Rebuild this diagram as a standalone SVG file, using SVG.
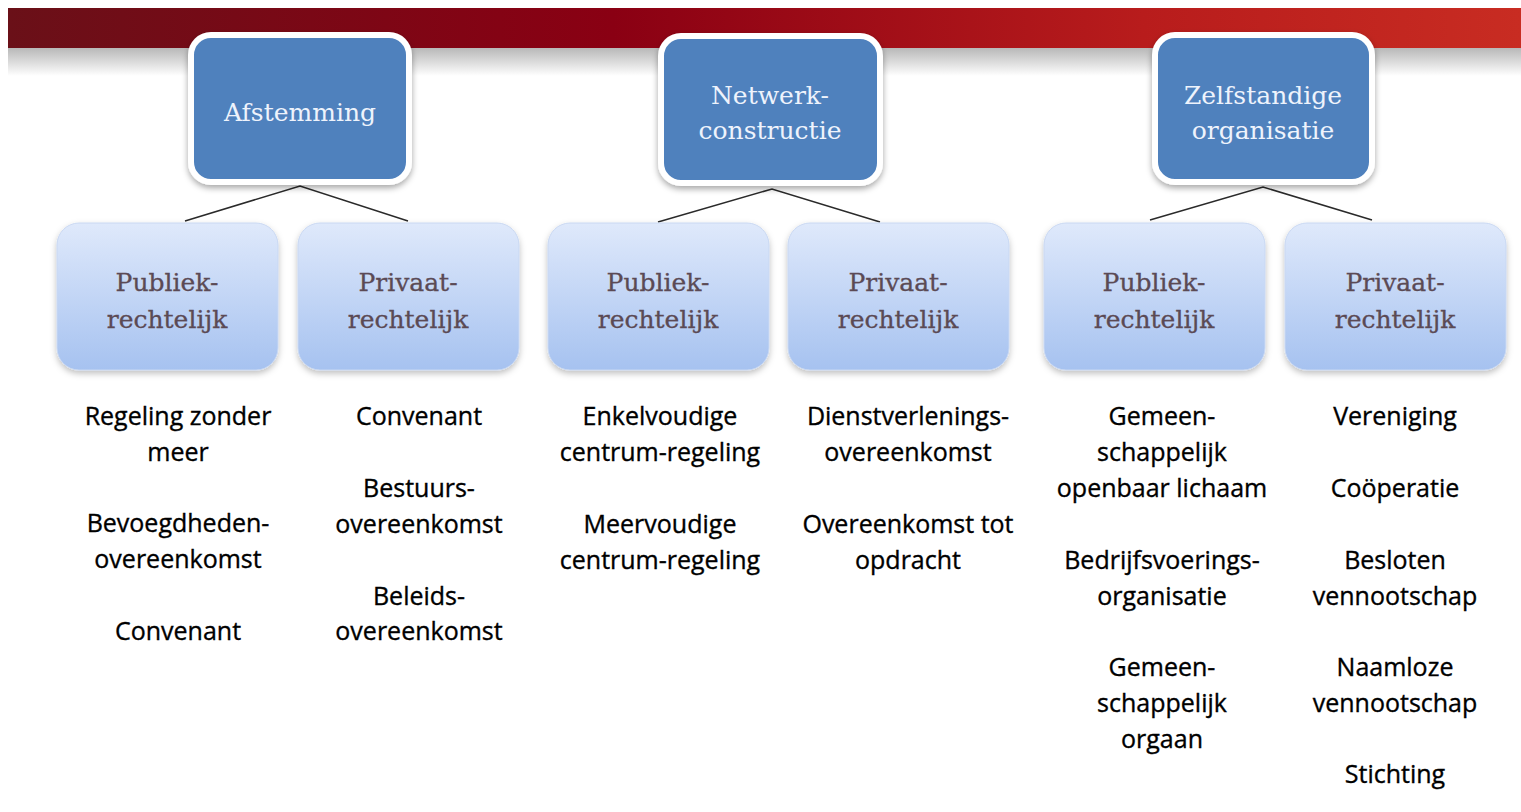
<svg xmlns="http://www.w3.org/2000/svg" width="1521" height="812" viewBox="0 0 1521 812">
<defs>
<linearGradient id="band" x1="0" y1="0" x2="1" y2="0">
<stop offset="0" stop-color="#6a1018"/>
<stop offset="0.4" stop-color="#8a0013"/>
<stop offset="0.75" stop-color="#b81c1c"/>
<stop offset="1" stop-color="#c82c22"/>
</linearGradient>
<linearGradient id="fade" x1="0" y1="0" x2="0" y2="1">
<stop offset="0" stop-color="#b8b8b8"/>
<stop offset="1" stop-color="#ffffff"/>
</linearGradient>
<linearGradient id="sub" x1="0" y1="0" x2="0" y2="1">
<stop offset="0" stop-color="#dfe9fb"/>
<stop offset="1" stop-color="#a6c2f0"/>
</linearGradient>
<filter id="sh" x="-10%" y="-10%" width="120%" height="130%">
<feDropShadow dx="0" dy="3" stdDeviation="3" flood-color="#000" flood-opacity="0.35"/>
</filter>
<filter id="sh2" x="-10%" y="-10%" width="120%" height="130%">
<feDropShadow dx="0" dy="3" stdDeviation="3" flood-color="#000" flood-opacity="0.25"/>
</filter>
</defs>
<style>
.top{fill:#4f81bd;stroke:#ffffff;stroke-width:6}
.topt{font-family:"DejaVu Serif","Liberation Serif",serif;font-size:25px;fill:#eef3fc;text-anchor:middle}
.sub{fill:url(#sub);stroke:#c9d8f2;stroke-width:1}
.subt{font-family:"DejaVu Serif","Liberation Serif",serif;font-size:25px;fill:#5b4a55;text-anchor:middle;stroke:#5b4a55;stroke-width:0.3}
.leaf{font-family:"Open Sans","Liberation Sans",sans-serif;font-size:25px;fill:#000000;text-anchor:middle;stroke:#000000;stroke-width:0.35}
.con{stroke:#2a2a2a;stroke-width:1.5;fill:none}
</style>
<rect x="0" y="0" width="1521" height="812" fill="#ffffff"/>
<rect x="8" y="8" width="1513" height="40" fill="url(#band)"/>
<rect x="8" y="48" width="1513" height="28" fill="url(#fade)"/>

<g id="connectors">
<polyline class="con" points="185,221 300,186 408,221"/>
<polyline class="con" points="658,222 772,189 880,222"/>
<polyline class="con" points="1150,220 1263,187 1372,220"/>
</g>

<g id="afstemming">
<rect class="top" x="191" y="35" width="218" height="147" rx="20" filter="url(#sh)"/>
<text class="topt" x="300" y="121">Afstemming</text>
</g>
<g id="netwerkconstructie">
<rect class="top" x="661" y="36" width="219" height="147" rx="20" filter="url(#sh)"/>
<text class="topt" x="770" y="104">Netwerk-</text>
<text class="topt" x="770" y="139">constructie</text>
</g>
<g id="zelfstandige-organisatie">
<rect class="top" x="1155" y="35" width="217" height="147" rx="20" filter="url(#sh)"/>
<text class="topt" x="1263" y="104">Zelfstandige</text>
<text class="topt" x="1263" y="139">organisatie</text>
</g>

<g id="publiek1">
<rect class="sub" x="57" y="223" width="221" height="147" rx="22" filter="url(#sh2)"/>
<text class="subt" x="167" y="291">Publiek-</text>
<text class="subt" x="167" y="328">rechtelijk</text>
</g>
<g id="privaat1">
<rect class="sub" x="298" y="223" width="221" height="147" rx="22" filter="url(#sh2)"/>
<text class="subt" x="408" y="291">Privaat-</text>
<text class="subt" x="408" y="328">rechtelijk</text>
</g>
<g id="publiek2">
<rect class="sub" x="548" y="223" width="221" height="147" rx="22" filter="url(#sh2)"/>
<text class="subt" x="658" y="291">Publiek-</text>
<text class="subt" x="658" y="328">rechtelijk</text>
</g>
<g id="privaat2">
<rect class="sub" x="788" y="223" width="221" height="147" rx="22" filter="url(#sh2)"/>
<text class="subt" x="898" y="291">Privaat-</text>
<text class="subt" x="898" y="328">rechtelijk</text>
</g>
<g id="publiek3">
<rect class="sub" x="1044" y="223" width="221" height="147" rx="22" filter="url(#sh2)"/>
<text class="subt" x="1154" y="291">Publiek-</text>
<text class="subt" x="1154" y="328">rechtelijk</text>
</g>
<g id="privaat3">
<rect class="sub" x="1285" y="223" width="221" height="147" rx="22" filter="url(#sh2)"/>
<text class="subt" x="1395" y="291">Privaat-</text>
<text class="subt" x="1395" y="328">rechtelijk</text>
</g>

<g id="leaves1">
<text class="leaf" x="178" y="425">Regeling zonder</text>
<text class="leaf" x="178" y="461">meer</text>
<text class="leaf" x="178" y="532">Bevoegdheden-</text>
<text class="leaf" x="178" y="568">overeenkomst</text>
<text class="leaf" x="178" y="640">Convenant</text>
</g>
<g id="leaves2">
<text class="leaf" x="419" y="425">Convenant</text>
<text class="leaf" x="419" y="497">Bestuurs-</text>
<text class="leaf" x="419" y="533">overeenkomst</text>
<text class="leaf" x="419" y="605">Beleids-</text>
<text class="leaf" x="419" y="640">overeenkomst</text>
</g>
<g id="leaves3">
<text class="leaf" x="660" y="425">Enkelvoudige</text>
<text class="leaf" x="660" y="461">centrum-regeling</text>
<text class="leaf" x="660" y="533">Meervoudige</text>
<text class="leaf" x="660" y="569">centrum-regeling</text>
</g>
<g id="leaves4">
<text class="leaf" x="908" y="425">Dienstverlenings-</text>
<text class="leaf" x="908" y="461">overeenkomst</text>
<text class="leaf" x="908" y="533">Overeenkomst tot</text>
<text class="leaf" x="908" y="569">opdracht</text>
</g>
<g id="leaves5">
<text class="leaf" x="1162" y="425">Gemeen-</text>
<text class="leaf" x="1162" y="461">schappelijk</text>
<text class="leaf" x="1162" y="497">openbaar lichaam</text>
<text class="leaf" x="1162" y="569">Bedrijfsvoerings-</text>
<text class="leaf" x="1162" y="605">organisatie</text>
<text class="leaf" x="1162" y="676">Gemeen-</text>
<text class="leaf" x="1162" y="712">schappelijk</text>
<text class="leaf" x="1162" y="748">orgaan</text>
</g>
<g id="leaves6">
<text class="leaf" x="1395" y="425">Vereniging</text>
<text class="leaf" x="1395" y="497">Coöperatie</text>
<text class="leaf" x="1395" y="569">Besloten</text>
<text class="leaf" x="1395" y="605">vennootschap</text>
<text class="leaf" x="1395" y="676">Naamloze</text>
<text class="leaf" x="1395" y="712">vennootschap</text>
<text class="leaf" x="1395" y="783">Stichting</text>
</g>
</svg>
